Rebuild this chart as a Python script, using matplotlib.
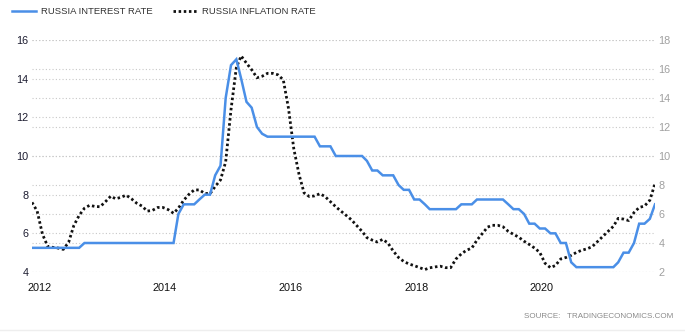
import numpy as np
import pandas as pd
import matplotlib
matplotlib.use('Agg')
import matplotlib.pyplot as plt
from matplotlib.lines import Line2D

plt.rcParams['font.family'] = ['Liberation Sans', 'DejaVu Sans']

# monthly readings, Nov 2011 .. Oct 2021
months = pd.date_range('2011-11-01', '2021-10-01', freq='MS') + pd.Timedelta(days=19)

interest_rate = [
    5.25, 5.25,
    5.25, 5.25, 5.25, 5.25, 5.25, 5.25, 5.25, 5.25, 5.5, 5.5, 5.5, 5.5,
    5.5, 5.5, 5.5, 5.5, 5.5, 5.5, 5.5, 5.5, 5.5, 5.5, 5.5, 5.5,
    5.5, 5.5, 7.0, 7.5, 7.5, 7.5, 7.75, 8.0, 8.0, 9.0, 9.5, 13.0,
    14.7, 15.0, 14.0, 12.8, 12.5, 11.5, 11.15, 11.0, 11.0, 11.0, 11.0, 11.0,
    11.0, 11.0, 11.0, 11.0, 11.0, 10.5, 10.5, 10.5, 10.0, 10.0, 10.0, 10.0,
    10.0, 10.0, 9.75, 9.25, 9.25, 9.0, 9.0, 9.0, 8.5, 8.25, 8.25, 7.75,
    7.75, 7.5, 7.25, 7.25, 7.25, 7.25, 7.25, 7.25, 7.5, 7.5, 7.5, 7.75,
    7.75, 7.75, 7.75, 7.75, 7.75, 7.5, 7.25, 7.25, 7.0, 6.5, 6.5, 6.25,
    6.25, 6.0, 6.0, 5.5, 5.5, 4.5, 4.25, 4.25, 4.25, 4.25, 4.25, 4.25,
    4.25, 4.25, 4.5, 5.0, 5.0, 5.5, 6.5, 6.5, 6.75, 7.5,
]

inflation_rate = [
    6.8, 6.2,
    4.6, 3.75, 3.7, 3.65, 3.56, 4.05, 5.2, 5.9, 6.4, 6.6, 6.52, 6.5,
    6.85, 7.23, 7.05, 7.15, 7.3, 7.05, 6.75, 6.55, 6.2, 6.25, 6.45, 6.45,
    6.3, 6.05, 6.4, 6.95, 7.35, 7.66, 7.66, 7.42, 7.4, 7.9, 8.35, 9.6,
    13.2, 16.1, 16.9, 16.4, 15.95, 15.4, 15.5, 15.7, 15.7, 15.6, 15.25, 13.3,
    10.5, 8.7, 7.45, 7.2, 7.25, 7.4, 7.2, 6.85, 6.5, 6.2, 5.9, 5.6,
    5.2, 4.8, 4.37, 4.2, 4.07, 4.25, 4.0, 3.45, 3.0, 2.73, 2.55, 2.44,
    2.3, 2.17, 2.29, 2.35, 2.4, 2.3, 2.3, 2.9, 3.25, 3.5, 3.65, 4.2,
    4.65, 5.1, 5.22, 5.22, 5.12, 4.8, 4.6, 4.4, 4.12, 3.9, 3.65, 3.35,
    2.6, 2.3, 2.45, 2.9, 3.0, 3.15, 3.35, 3.5, 3.6, 3.75, 4.1, 4.45,
    4.8, 5.15, 5.7, 5.65, 5.55, 6.1, 6.45, 6.55, 6.95, 8.1,
]

year_ticks = [2012, 2014, 2016, 2018, 2020]
left_ticks = [4, 6, 8, 10, 12, 14, 16]
right_ticks = [2, 4, 6, 8, 10, 12, 14, 16, 18]

grid_kw = dict(color='#c8c8c8', linestyle=(0, (1, 2)), linewidth=0.8)

fig = plt.figure(figsize=(6.85, 3.36), dpi=100)
ax1 = fig.add_axes([32/685, 64/336, 623/685, 232/336])
ax2 = ax1.twinx()

# interest rate drawn above the inflation axis and its grid
ax1.set_zorder(ax2.get_zorder() + 1)
ax1.patch.set_visible(False)

l1, = ax1.plot(months, interest_rate, color='#4a8fe7', linewidth=1.8,
               solid_joinstyle='miter')
l2, = ax2.plot(months, inflation_rate, color='#111111', linewidth=2.0,
               linestyle=(0, (0.9, 0.95)))

ax1.set_xlim(months[0], months[-1])
ax1.set_ylim(4, 16)
ax2.set_ylim(2, 18)

ax1.set_xticks([pd.Timestamp(f'{y}-01-01') for y in year_ticks])
ax1.set_xticklabels([str(y) for y in year_ticks])
ax1.set_yticks(left_ticks)
ax2.set_yticks(right_ticks)

ax1.tick_params(axis='x', length=0, pad=8, labelsize=7.8, labelcolor='#111111')
ax1.tick_params(axis='y', length=0, pad=2.5, labelsize=7.8, labelcolor='#1c1c30')
ax2.tick_params(axis='y', length=0, pad=2.5, labelsize=7.8, labelcolor='#a0a0a0')

# vertical year lines plus both sets of horizontal lines, all on the back axis
ax2.set_xticks(ax1.get_xticks())
ax2.tick_params(axis='x', length=0, labelbottom=False)
ax2.grid(True, **grid_kw)
for t in left_ticks:
    ax2.axhline(2 + (t - 4) * 16 / 12, zorder=0, **grid_kw)

for ax in (ax1, ax2):
    for s in ax.spines.values():
        s.set_visible(False)

fig.legend([l1, l2], ['RUSSIA INTEREST RATE', 'RUSSIA INFLATION RATE'],
           loc='center left', bbox_to_anchor=(3/685, 1 - 12/336), ncol=2,
           frameon=False, fontsize=6.8, labelcolor='#333333',
           handlelength=2.6, handletextpad=0.5, columnspacing=2.2)

fig.text(524/685, 1 - 316/336, 'SOURCE:   TRADINGECONOMICS.COM',
         fontsize=5.8, color='#8a8a8a', va='center', ha='left')

fig.add_artist(Line2D([0, 1], [1 - 330/336] * 2, color='#eeeeee', linewidth=1))

fig.savefig('out.png', dpi=100)
